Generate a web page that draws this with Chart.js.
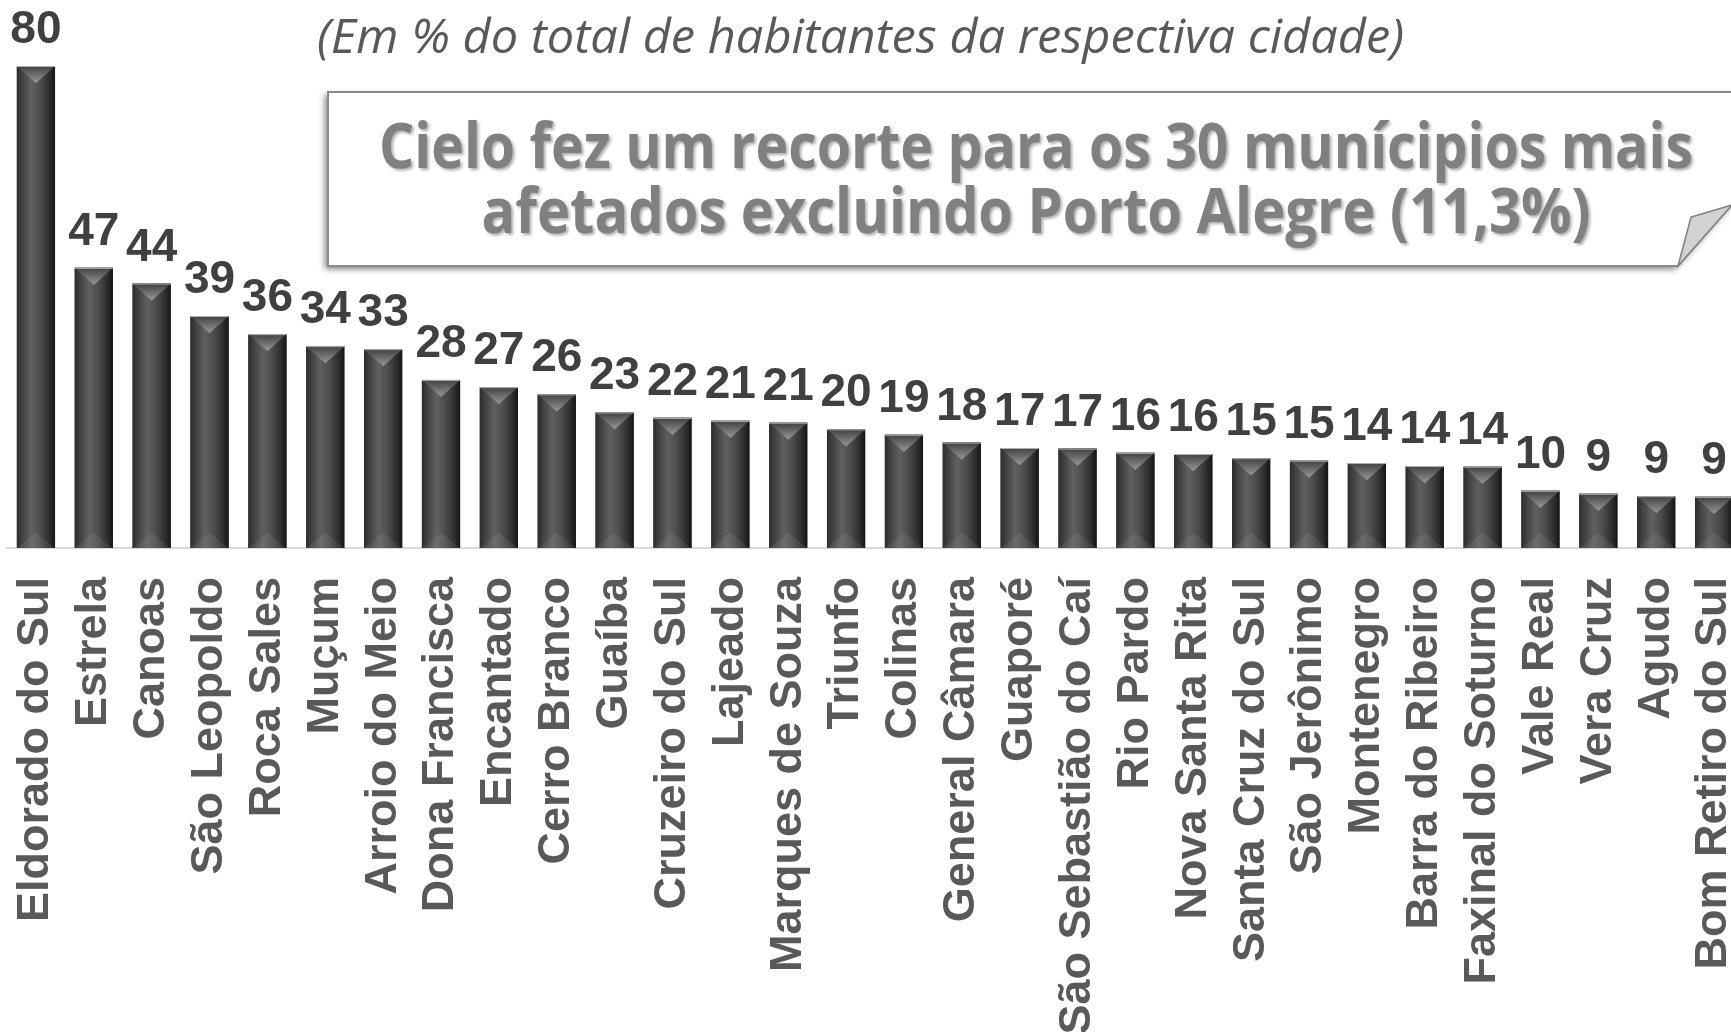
<!DOCTYPE html>
<html><head><meta charset="utf-8">
<script src="https://cdn.jsdelivr.net/npm/chart.js@4.4.1/dist/chart.umd.min.js"></script>
<style>
html,body{margin:0;padding:0;background:#fff;overflow:hidden;width:1731px;height:1032px;}
#wrap{position:absolute;left:0;top:0;width:1745px;height:1032px;}
canvas{display:block;}
</style></head><body>
<div id="wrap"><canvas id="c" width="1745" height="1032"></canvas></div>
<script>
// ---- data ----
const categories = ["Eldorado do Sul","Estrela","Canoas","São Leopoldo","Roca Sales","Muçum","Arroio do Meio","Dona Francisca","Encantado","Cerro Branco","Guaíba","Cruzeiro do Sul","Lajeado","Marques de Souza","Triunfo","Colinas","General Câmara","Guaporé","São Sebastião do Caí","Rio Pardo","Nova Santa Rita","Santa Cruz do Sul","São Jerônimo","Montenegro","Barra do Ribeiro","Faxinal do Soturno","Vale Real","Vera Cruz","Agudo","Bom Retiro do Sul"];
const values = [80,46.5,43.9,38.5,35.5,33.5,33.0,27.9,26.7,25.5,22.5,21.6,21.1,20.8,19.7,18.8,17.5,16.6,16.5,15.8,15.6,14.9,14.5,14.1,13.6,13.5,9.5,9.0,8.6,8.5];
const subtitle = "(Em % do total de habitantes da respectiva cidade)";
const calloutLines = ["Cielo fez um recorte para os 30 munícipios mais","afetados excluindo Porto Alegre (11,3%)"];

function fitText(ctx, text, x, y, target, align){
  const w = ctx.measureText(text).width;
  const s = target / w;
  ctx.save();
  ctx.translate(x, y);
  ctx.scale(s, 1);
  ctx.textAlign = align;
  ctx.fillText(text, 0, 0);
  ctx.restore();
}

const barStyle = {
  id: 'barStyle',
  afterDatasetsDraw(chart){
    const ctx = chart.ctx;
    const meta = chart.getDatasetMeta(0);
    meta.data.forEach((bar, i) => {
      const p = bar.getProps(['x','y','base','width'], true);
      const l = p.x - p.width/2, r = p.x + p.width/2, t = p.y, b = p.base;
      ctx.save();
      const g = ctx.createLinearGradient(l, 0, r, 0);
      g.addColorStop(0, '#2c2c2c');
      g.addColorStop(0.12, '#3e3e3e');
      g.addColorStop(0.38, '#606060');
      g.addColorStop(0.62, '#4c4c4c');
      g.addColorStop(0.88, '#2a2a2a');
      g.addColorStop(1, '#141414');
      ctx.fillStyle = g;
      ctx.fillRect(l, t, p.width, b - t);
      const h = Math.min(p.width * 0.45, (b - t) / 2);
      const tg = ctx.createLinearGradient(0, t, 0, t + h);
      tg.addColorStop(0, '#404040');
      tg.addColorStop(1, '#999999');
      ctx.beginPath();
      ctx.moveTo(l, t); ctx.lineTo(r, t); ctx.lineTo(p.x, t + h); ctx.closePath();
      ctx.fillStyle = tg; ctx.fill();
      const bh = Math.min(p.width * 0.4, (b - t) / 2);
      ctx.beginPath();
      ctx.moveTo(l, b); ctx.lineTo(r, b); ctx.lineTo(p.x, b - bh); ctx.closePath();
      ctx.fillStyle = 'rgba(255,255,255,0.08)'; ctx.fill();
      ctx.fillStyle = 'rgba(190,190,190,0.9)';
      ctx.fillRect(l, t, p.width, 1);
      // value label
      ctx.font = 'bold 46px "Liberation Sans", Arial, sans-serif';
      ctx.fillStyle = '#404040';
      ctx.textBaseline = 'alphabetic';
      ctx.textAlign = 'center';
      ctx.fillText(String(Math.round(values[i])), p.x, t - 23);
      ctx.restore();
    });
  }
};

const decor = {
  id: 'decor',
  afterDraw(chart){
    const ctx = chart.ctx;
    // subtitle
    ctx.save();
    ctx.font = 'italic 48px "Open Sans", sans-serif';
    ctx.fillStyle = '#595959';
    ctx.textBaseline = 'alphabetic';
    fitText(ctx, subtitle, 317, 53, 1087, 'left');
    ctx.restore();
    // callout box
    ctx.save();
    ctx.beginPath();
    ctx.moveTo(328, 92); ctx.lineTo(1790, 92); ctx.lineTo(1790, 138);
    ctx.lineTo(1678, 266); ctx.lineTo(328, 266); ctx.closePath();
    ctx.shadowColor = 'rgba(0,0,0,0.5)'; ctx.shadowBlur = 6;
    ctx.shadowOffsetX = -3; ctx.shadowOffsetY = 3;
    ctx.fillStyle = '#ffffff'; ctx.fill();
    ctx.shadowColor = 'rgba(0,0,0,0)';
    ctx.strokeStyle = '#8a8a8a'; ctx.lineWidth = 2; ctx.stroke();
    // folded corner
    ctx.beginPath();
    ctx.moveTo(1678, 266); ctx.lineTo(1691, 217); ctx.lineTo(1732, 205); ctx.closePath();
    ctx.fillStyle = '#d2d2d2'; ctx.fill();
    ctx.strokeStyle = '#7f7f7f'; ctx.lineWidth = 1.5; ctx.stroke();
    // callout text
    ctx.font = 'bold 62px "Open Sans", sans-serif';
    ctx.fillStyle = '#808080';
    ctx.shadowColor = 'rgba(0,0,0,0.32)'; ctx.shadowBlur = 3;
    ctx.shadowOffsetX = 2; ctx.shadowOffsetY = 2;
    ctx.textBaseline = 'alphabetic';
    fitText(ctx, calloutLines[0], 1036, 168, 1314, 'center');
    fitText(ctx, calloutLines[1], 1036, 233, 1109, 'center');
    ctx.restore();
  }
};

function build(){
  new Chart(document.getElementById('c'), {
    type: 'bar',
    data: {
      labels: categories,
      datasets: [{
        data: values,
        backgroundColor: '#3a3a3a',
        borderWidth: 0,
        barPercentage: 0.66,
        categoryPercentage: 1.0
      }]
    },
    options: {
      responsive: false,
      animation: false,
      devicePixelRatio: 1,
      layout: { padding: { left: 7, right: 2, top: 66, bottom: 0 } },
      plugins: { legend: { display: false }, tooltip: { enabled: false }, title: { display: false } },
      scales: {
        x: {
          grid: { display: true, drawOnChartArea: false, drawTicks: false, color: 'rgba(0,0,0,0)' },
          border: { display: true, color: '#d9d9d9', width: 2 },
          ticks: {
            autoSkip: false, minRotation: 90, maxRotation: 90, padding: 29,
            color: '#595959',
            font: { family: '"Liberation Sans", Arial, sans-serif', size: 45, weight: 'bold' }
          },
          afterFit(scale){ scale.height = 484; scale.paddingLeft = 0; scale.paddingRight = 0; }
        },
        y: { display: false, min: 0, max: 80 }
      }
    },
    plugins: [barStyle, decor]
  });
}

const loads = [
  'bold 45px "Liberation Sans"', 'italic 48px "Open Sans"', 'bold 62px "Open Sans"'
].map(f => document.fonts.load(f).catch(() => null));
Promise.race([Promise.all(loads), new Promise(r => setTimeout(r, 1500))]).then(build);
</script>
</body></html>
